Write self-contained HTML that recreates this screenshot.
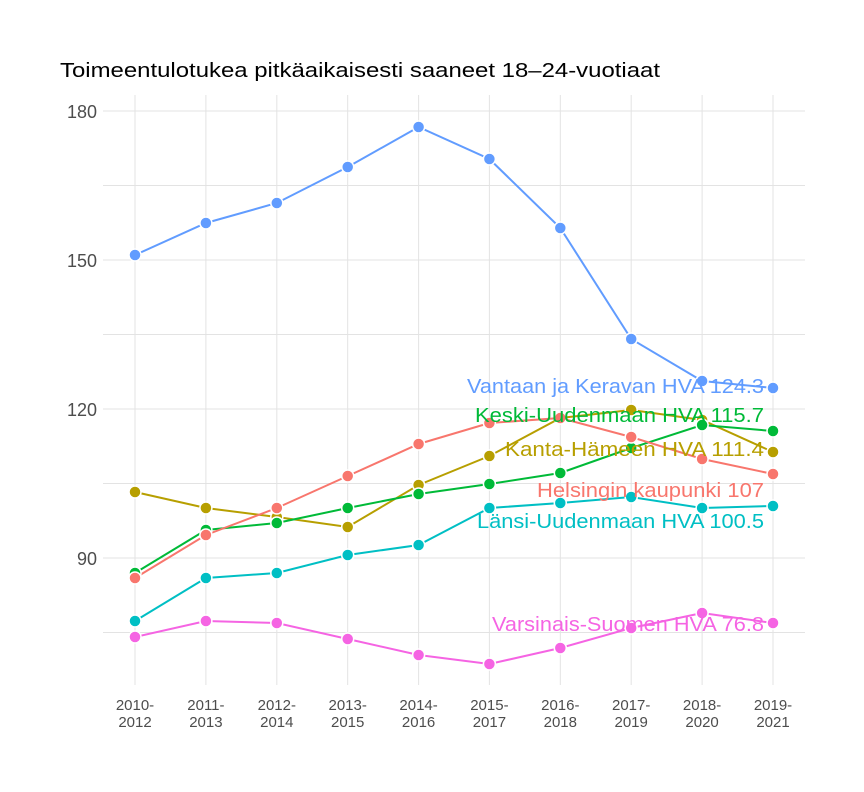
<!DOCTYPE html>
<html><head><meta charset="utf-8"><style>body{margin:0;background:#fff}svg{display:block}</style></head><body>
<svg width="864" height="792" xmlns="http://www.w3.org/2000/svg" font-family="Liberation Sans, sans-serif">
<rect width="864" height="792" fill="#fff"/>
<text x="60" y="77" font-size="20" fill="#000" textLength="600" lengthAdjust="spacingAndGlyphs">Toimeentulotukea pitkäaikaisesti saaneet 18–24-vuotiaat</text>
<g stroke="#e3e3e3" stroke-width="1">
<line x1="103" x2="805" y1="111" y2="111"/><line x1="103" x2="805" y1="185.5" y2="185.5"/>
<line x1="103" x2="805" y1="260" y2="260"/><line x1="103" x2="805" y1="334.5" y2="334.5"/>
<line x1="103" x2="805" y1="409" y2="409"/><line x1="103" x2="805" y1="483.5" y2="483.5"/>
<line x1="103" x2="805" y1="558" y2="558"/><line x1="103" x2="805" y1="632.5" y2="632.5"/>
<line y1="95" y2="685" x1="135" x2="135"/><line y1="95" y2="685" x1="205.9" x2="205.9"/>
<line y1="95" y2="685" x1="276.8" x2="276.8"/><line y1="95" y2="685" x1="347.7" x2="347.7"/>
<line y1="95" y2="685" x1="418.6" x2="418.6"/><line y1="95" y2="685" x1="489.4" x2="489.4"/>
<line y1="95" y2="685" x1="560.3" x2="560.3"/><line y1="95" y2="685" x1="631.2" x2="631.2"/>
<line y1="95" y2="685" x1="702.1" x2="702.1"/><line y1="95" y2="685" x1="773" x2="773"/>
</g>
<g font-size="18" fill="#4d4d4d" text-anchor="end">
<text x="97" y="118">180</text><text x="97" y="267">150</text><text x="97" y="416">120</text><text x="97" y="565">90</text>
</g>
<g font-size="15" fill="#4d4d4d" text-anchor="middle">
<text x="135" y="710">2010-</text><text x="135" y="727">2012</text>
<text x="205.9" y="710">2011-</text><text x="205.9" y="727">2013</text>
<text x="276.8" y="710">2012-</text><text x="276.8" y="727">2014</text>
<text x="347.7" y="710">2013-</text><text x="347.7" y="727">2015</text>
<text x="418.6" y="710">2014-</text><text x="418.6" y="727">2016</text>
<text x="489.4" y="710">2015-</text><text x="489.4" y="727">2017</text>
<text x="560.3" y="710">2016-</text><text x="560.3" y="727">2018</text>
<text x="631.2" y="710">2017-</text><text x="631.2" y="727">2019</text>
<text x="702.1" y="710">2018-</text><text x="702.1" y="727">2020</text>
<text x="773" y="710">2019-</text><text x="773" y="727">2021</text>
</g>
<g fill="none" stroke-width="2">
<polyline stroke="#619CFF" points="135,255 205.9,223 276.8,203 347.7,167 418.6,127 489.4,159 560.3,228 631.2,339 702.1,381 773,388"/>
<polyline stroke="#B79F00" points="135,492 205.9,508 276.8,517 347.7,527 418.6,485 489.4,456 560.3,418 631.2,410 702.1,420 773,452"/>
<polyline stroke="#00BA38" points="135,573 205.9,530 276.8,523 347.7,508 418.6,494 489.4,484 560.3,473 631.2,448 702.1,425 773,431"/>
<polyline stroke="#F8766D" points="135,578 205.9,535 276.8,508 347.7,476 418.6,444 489.4,423 560.3,418 631.2,437 702.1,459 773,474"/>
<polyline stroke="#00BFC4" points="135,621 205.9,578 276.8,573 347.7,555 418.6,545 489.4,508 560.3,503 631.2,497 702.1,508 773,506"/>
<polyline stroke="#F564E3" points="135,637 205.9,621 276.8,623 347.7,639 418.6,655 489.4,664 560.3,648 631.2,628 702.1,613 773,623"/>
</g>
<g stroke="#fff" stroke-width="1.5">
<g fill="#619CFF"><circle cx="135" cy="255" r="6"/><circle cx="205.9" cy="223" r="6"/><circle cx="276.8" cy="203" r="6"/><circle cx="347.7" cy="167" r="6"/><circle cx="418.6" cy="127" r="6"/><circle cx="489.4" cy="159" r="6"/><circle cx="560.3" cy="228" r="6"/><circle cx="631.2" cy="339" r="6"/><circle cx="702.1" cy="381" r="6"/><circle cx="773" cy="388" r="6"/></g>
<g fill="#B79F00"><circle cx="135" cy="492" r="6"/><circle cx="205.9" cy="508" r="6"/><circle cx="276.8" cy="517" r="6"/><circle cx="347.7" cy="527" r="6"/><circle cx="418.6" cy="485" r="6"/><circle cx="489.4" cy="456" r="6"/><circle cx="560.3" cy="418" r="6"/><circle cx="631.2" cy="410" r="6"/><circle cx="702.1" cy="420" r="6"/><circle cx="773" cy="452" r="6"/></g>
<g fill="#00BA38"><circle cx="135" cy="573" r="6"/><circle cx="205.9" cy="530" r="6"/><circle cx="276.8" cy="523" r="6"/><circle cx="347.7" cy="508" r="6"/><circle cx="418.6" cy="494" r="6"/><circle cx="489.4" cy="484" r="6"/><circle cx="560.3" cy="473" r="6"/><circle cx="631.2" cy="448" r="6"/><circle cx="702.1" cy="425" r="6"/><circle cx="773" cy="431" r="6"/></g>
<g fill="#F8766D"><circle cx="135" cy="578" r="6"/><circle cx="205.9" cy="535" r="6"/><circle cx="276.8" cy="508" r="6"/><circle cx="347.7" cy="476" r="6"/><circle cx="418.6" cy="444" r="6"/><circle cx="489.4" cy="423" r="6"/><circle cx="560.3" cy="418" r="6"/><circle cx="631.2" cy="437" r="6"/><circle cx="702.1" cy="459" r="6"/><circle cx="773" cy="474" r="6"/></g>
<g fill="#00BFC4"><circle cx="135" cy="621" r="6"/><circle cx="205.9" cy="578" r="6"/><circle cx="276.8" cy="573" r="6"/><circle cx="347.7" cy="555" r="6"/><circle cx="418.6" cy="545" r="6"/><circle cx="489.4" cy="508" r="6"/><circle cx="560.3" cy="503" r="6"/><circle cx="631.2" cy="497" r="6"/><circle cx="702.1" cy="508" r="6"/><circle cx="773" cy="506" r="6"/></g>
<g fill="#F564E3"><circle cx="135" cy="637" r="6"/><circle cx="205.9" cy="621" r="6"/><circle cx="276.8" cy="623" r="6"/><circle cx="347.7" cy="639" r="6"/><circle cx="418.6" cy="655" r="6"/><circle cx="489.4" cy="664" r="6"/><circle cx="560.3" cy="648" r="6"/><circle cx="631.2" cy="628" r="6"/><circle cx="702.1" cy="613" r="6"/><circle cx="773" cy="623" r="6"/></g>
</g>
<g font-size="20" text-anchor="end">
<text x="764" y="393" fill="#619CFF" textLength="297" lengthAdjust="spacingAndGlyphs">Vantaan ja Keravan HVA 124.3</text>
<text x="764" y="422" fill="#00BA38" textLength="289" lengthAdjust="spacingAndGlyphs">Keski-Uudenmaan HVA 115.7</text>
<text x="764" y="456" fill="#B79F00" textLength="259" lengthAdjust="spacingAndGlyphs">Kanta-Hämeen HVA 111.4</text>
<text x="764" y="497" fill="#F8766D" textLength="227" lengthAdjust="spacingAndGlyphs">Helsingin kaupunki 107</text>
<text x="764" y="528" fill="#00BFC4" textLength="287" lengthAdjust="spacingAndGlyphs">Länsi-Uudenmaan HVA 100.5</text>
<text x="764" y="631" fill="#F564E3" textLength="272" lengthAdjust="spacingAndGlyphs">Varsinais-Suomen HVA 76.8</text>
</g>
</svg>
</body></html>
